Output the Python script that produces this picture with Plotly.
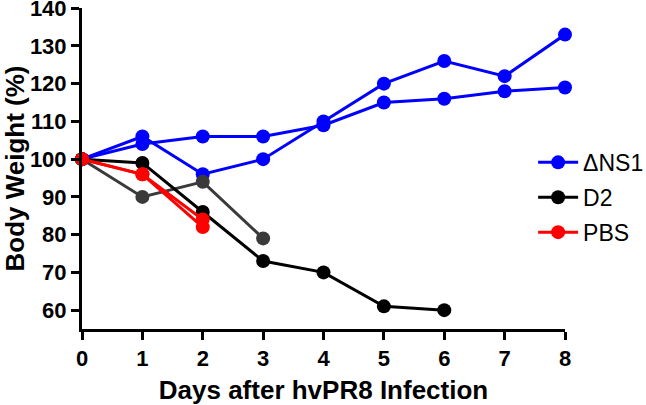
import plotly.graph_objects as go

days = [0, 1, 2, 3, 4, 5, 6, 7, 8]
dns1_a = [100, 106, 96, 100, 110, 120, 126, 122, 133]
dns1_b = [100, 104, 106, 106, 109, 115, 116, 118, 119]
d2_a = [100, 99, 86, 73, 70, 61, 60]
d2_b = [100, 90, 94, 79]
pbs_a = [100, 96, 84]
pbs_b = [100, 96, 82]

y_ticks = [60, 70, 80, 90, 100, 110, 120, 130, 140]
x_ticks = days

BLUE = "#0000ff"
BLACK = "#000000"
GRAY = "#3a3a3a"
RED = "#ff0000"
FONT = "Liberation Sans, Arial, sans-serif"

fig = go.Figure()

def add(y, color, name, show):
    fig.add_trace(go.Scatter(
        x=days[:len(y)], y=y, mode="lines+markers", name=name,
        showlegend=show, legendgroup=name,
        line=dict(color=color, width=3),
        marker=dict(color=color, size=14),
        cliponaxis=False,
    ))

add(dns1_a, BLUE, "ΔNS1", True)
add(dns1_b, BLUE, "ΔNS1", False)
add(d2_b, GRAY, "D2", False)
add(d2_a, BLACK, "D2", True)
add(pbs_a, RED, "PBS", True)
add(pbs_b, RED, "PBS", False)

fig.update_layout(
    width=646, height=405,
    margin=dict(l=82, r=81, t=8, b=76, autoexpand=False),
    paper_bgcolor="white", plot_bgcolor="white",
    font=dict(family=FONT, color="black"),
    showlegend=True,
    legend=dict(x=0.934, y=0.41, xanchor="left", yanchor="middle",
                font=dict(size=23, family=FONT),
                itemwidth=40, tracegroupgap=2, bgcolor="rgba(0,0,0,0)"),
    xaxis=dict(range=[0, 8], tickvals=x_ticks, showline=True, linewidth=3,
               linecolor="black", ticks="outside", ticklen=8, tickwidth=3,
               tickcolor="black", showgrid=False, zeroline=False, automargin=False,
               ticklabeloverflow="allow",
               tickfont=dict(size=22, family=FONT, weight="bold"),
               title=dict(text="<b>Days after hvPR8 Infection</b>", font=dict(size=26), standoff=12)),
    yaxis=dict(range=[55, 140.05], tickvals=y_ticks, showline=True, linewidth=3,
               linecolor="black", ticks="outside", ticklen=8, tickwidth=3,
               tickcolor="black", showgrid=False, zeroline=False, automargin=False,
               ticklabeloverflow="allow",
               tickfont=dict(size=22, family=FONT, weight="bold"),
               title=dict(text="<b>Body Weight (%)</b>", font=dict(size=26), standoff=2)),
)

fig.write_html("out.html", config={"displayModeBar": False},
               post_script="document.body.style.margin='0';document.body.style.padding='0';")
